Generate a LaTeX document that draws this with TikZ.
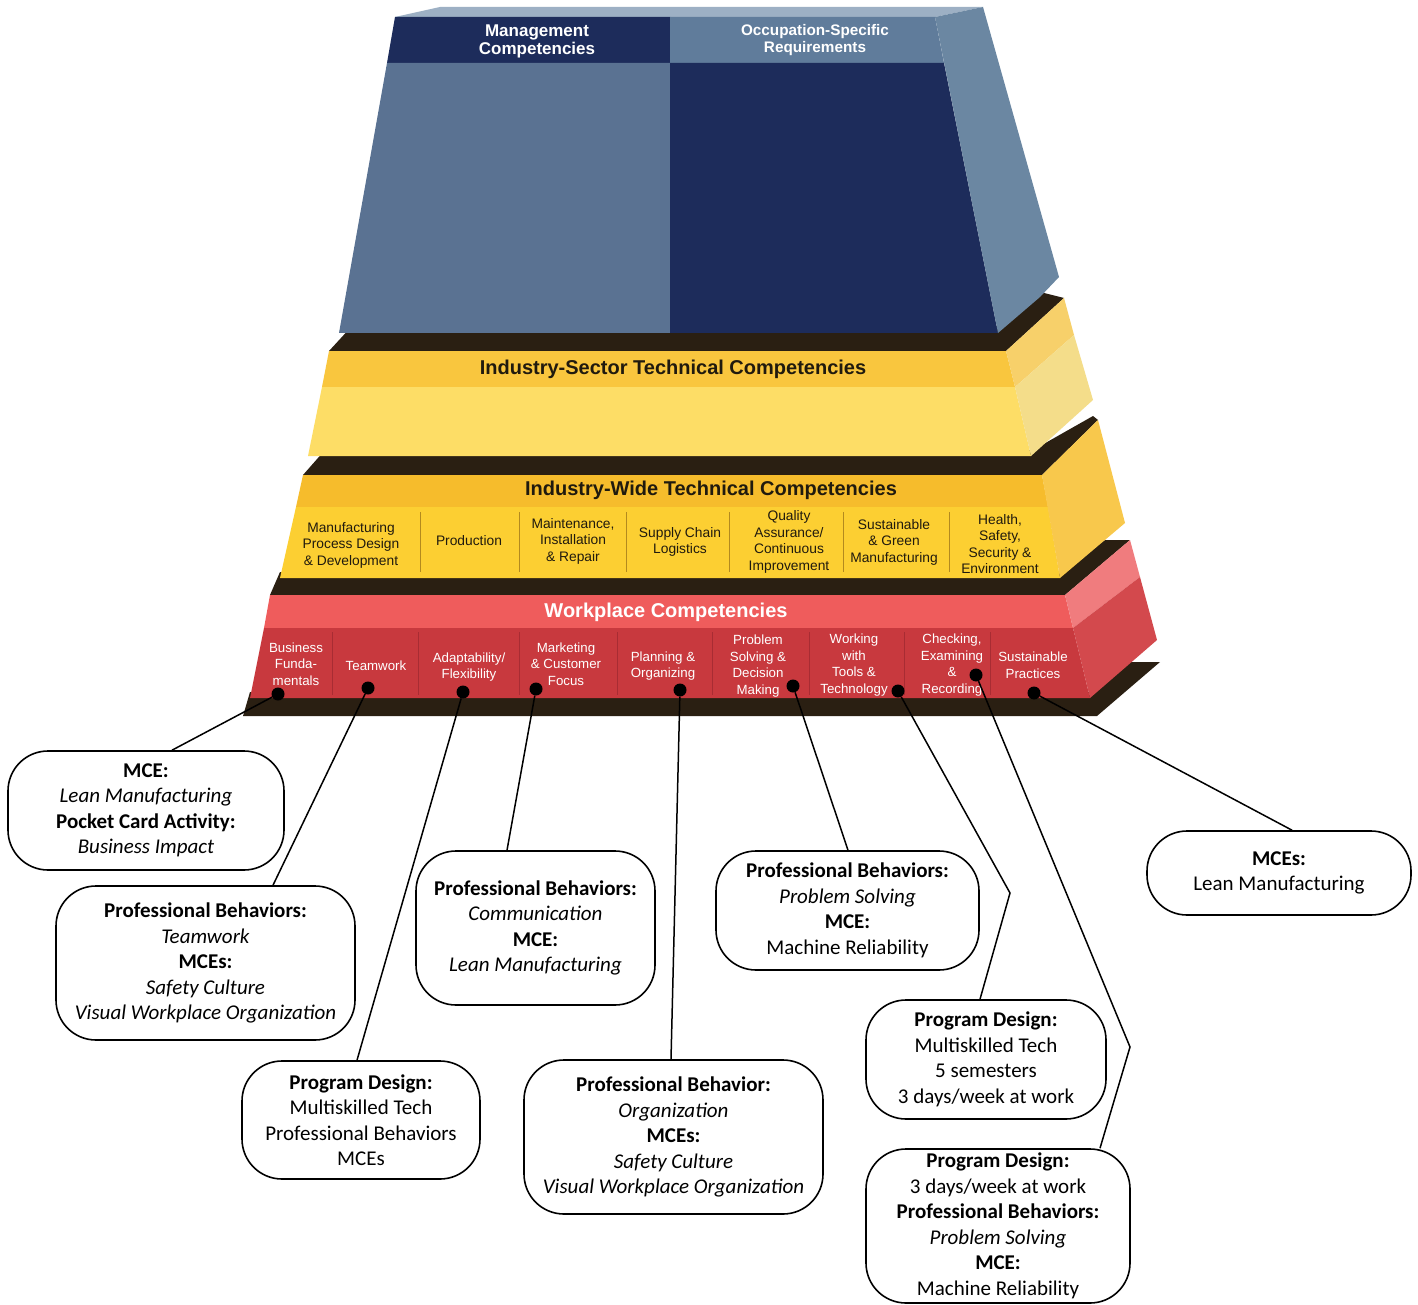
\documentclass[tikz,border=0pt]{standalone}
\usepackage{fontspec}
\setmainfont{Carlito}
\newfontfamily\pyrfont{Liberation Sans}
\usetikzlibrary{calc}

\definecolor{topblue}{HTML}{9DB0C4}
\definecolor{steelblue}{HTML}{5A7292}
\definecolor{headsteel}{HTML}{607C9B}
\definecolor{navyblue}{HTML}{1D2C5B}
\definecolor{sideblue}{HTML}{6B87A2}
\definecolor{darkband}{HTML}{2A1F12}
\definecolor{sectortop}{HTML}{F9C63E}
\definecolor{sectorlow}{HTML}{FDDD66}
\definecolor{sectorside}{HTML}{F7D06A}
\definecolor{sectorsidelow}{HTML}{F4DD8A}
\definecolor{widetop}{HTML}{F6BC2C}
\definecolor{widelow}{HTML}{FCCF32}
\definecolor{wideside}{HTML}{F8C84C}
\definecolor{worktop}{HTML}{EF5C5C}
\definecolor{worklow}{HTML}{C8393E}
\definecolor{workside}{HTML}{F07C7E}
\definecolor{worksidelow}{HTML}{D3494D}
\definecolor{titletext}{HTML}{201A0E}
\definecolor{ydivcol}{HTML}{B38A1E}
\definecolor{rdivcol}{HTML}{A82C33}

\begin{document}
\begin{tikzpicture}[
x=1pt,
y=-1pt,
infobox/.style={draw,line width=1.6pt,rounded corners=40pt,align=center,inner sep=0pt,font=\fontsize{21}{25.5}\selectfont,execute at begin node={\rule{0pt}{28pt}}},
hd/.style={font=\pyrfont\bfseries\fontsize{17}{18}\selectfont,text=white,align=center,inner sep=0pt},
ttl/.style={font=\pyrfont\bfseries\fontsize{20}{22}\selectfont,text=titletext,inner sep=0pt},
ylab/.style={font=\pyrfont\fontsize{13.8}{16.5}\selectfont,text=titletext,align=center,inner sep=0pt},
rlab/.style={font=\pyrfont\fontsize{13.3}{16.5}\selectfont,text=white,align=center,inner sep=0pt},
dotmark/.style={circle,fill=black,inner sep=0pt,minimum size=13pt},
conn/.style={line width=1.5pt},
ydiv/.style={draw=ydivcol,line width=0.9pt},
rdiv/.style={draw=rdivcol,line width=0.9pt}
]
\useasboundingbox (0,0) rectangle (1418,1305);
\fill[white] (0,0) rectangle (1418,1305);

\fill[darkband] (352,326) -- (998,326) -- (1040,292) -- (1064,298) -- (1006,351) -- (329,351) -- cycle;
\fill[darkband] (325,450) -- (1033,450) -- (1093,416) -- (1098,420) -- (1042,475) -- (303,475) -- cycle;
\fill[darkband] (280,572) -- (1060,572) -- (1105,540) -- (1130,540) -- (1065,595) -- (270,595) -- cycle;
\fill[darkband] (250,692) -- (1090,692) -- (1128,662) -- (1160,662) -- (1097,716) -- (243,716) -- cycle;

\fill[topblue] (395,17) -- (440,7) -- (983,7) -- (935,17) -- cycle;
\fill[navyblue] (395,17) -- (670,17) -- (670,63) -- (387,63) -- cycle;
\fill[headsteel] (670,17) -- (935,17) -- (944,63) -- (670,63) -- cycle;
\fill[steelblue] (387,63) -- (670,63) -- (670,333) -- (339,333) -- cycle;
\fill[navyblue] (670,63) -- (944,63) -- (998,333) -- (670,333) -- cycle;
\fill[sideblue] (935,17) -- (983,7) -- (1059,277) -- (1040,297) -- (998,333) -- cycle;

\fill[sectortop] (329,351) -- (1006,351) -- (1015,387) -- (322,387) -- cycle;
\fill[sectorlow] (322,387) -- (1015,387) -- (1031,456) -- (308,456) -- cycle;
\fill[sectorside] (1006,351) -- (1064,298) -- (1074,335) -- (1015,387) -- cycle;
\fill[sectorsidelow] (1015,387) -- (1074,335) -- (1093,400) -- (1031,456) -- cycle;

\fill[widetop] (303,475) -- (1042,475) -- (1048,507) -- (296,507) -- cycle;
\fill[widelow] (296,507) -- (1048,507) -- (1060,578) -- (280,578) -- cycle;
\fill[wideside] (1042,475) -- (1098,420) -- (1125,523) -- (1060,578) -- cycle;

\fill[worktop] (270,595) -- (1065,595) -- (1073,628) -- (264,628) -- cycle;
\fill[worklow] (264,628) -- (1073,628) -- (1090,698) -- (250,698) -- cycle;
\fill[workside] (1065,595) -- (1130,540) -- (1140,577) -- (1073,628) -- cycle;
\fill[worksidelow] (1073,628) -- (1140,577) -- (1157,640) -- (1090,698) -- cycle;

\foreach \x in {420,519,626,729,843,949} \draw[ydiv] (\x,512) -- (\x,572);
\foreach \x in {332,418,519,617,712,809,904,990} \draw[rdiv] (\x,632) -- (\x,695);

\node[hd] (mgmt) at (537,41) {Management\\Competencies};
\node[hd,font=\pyrfont\bfseries\fontsize{15.3}{17}\selectfont] (occ) at (815,40) {Occupation-Specific\\Requirements};
\node[ttl] (sector) at (673,369) {Industry-Sector Technical Competencies};
\node[ttl] (wide) at (711,490) {Industry-Wide Technical Competencies};
\node[ttl,text=white] (workplace) at (666,612) {Workplace Competencies};

\node[ylab] (ymfg) at (351,545) {Manufacturing\\Process Design\\\& Development};
\node[ylab] (yprod) at (469,541) {Production};
\node[ylab] (ymaint) at (573,541) {Maintenance,\\Installation\\\& Repair};
\node[ylab] (ysupply) at (680,542) {Supply Chain\\Logistics};
\node[ylab] (yquality) at (789,542) {Quality\\Assurance/\\Continuous\\Improvement};
\node[ylab] (ygreen) at (894,542) {Sustainable\\\& Green\\Manufacturing};
\node[ylab] (yhealth) at (1000,544) {Health,\\Safety,\\Security \&\\Environment};

\node[rlab] (rbiz) at (296,664) {Business\\Funda-\\mentals};
\node[rlab] (rteam) at (376,666) {Teamwork};
\node[rlab] (radapt) at (469,667) {Adaptability/\\Flexibility};
\node[rlab] (rmarket) at (566,664) {Marketing\\\& Customer\\Focus};
\node[rlab] (rplan) at (663,666) {Planning \&\\Organizing};
\node[rlab] (rprob) at (758,666) {Problem\\Solving \&\\Decision\\Making};
\node[rlab] (rtools) at (854,665) {Working\\with\\Tools \&\\Technology};
\node[rlab] (rcheck) at (952,665) {Checking,\\Examining\\\&\\Recording};
\node[rlab] (rsust) at (1033,665) {Sustainable\\Practices};

\node[infobox,minimum width=276pt,minimum height=119pt] (mceBiz) at (146,810.5) {\textbf{MCE:}\\\textit{Lean Manufacturing}\\\textbf{Pocket Card Activity:}\\\textit{Business Impact}};
\node[infobox,minimum width=299pt,minimum height=154pt] (pbTeam) at (205.5,963) {\textbf{Professional Behaviors:}\\\textit{Teamwork}\\\textbf{MCEs:}\\\textit{Safety Culture}\\\textit{Visual Workplace Organization}};
\node[infobox,minimum width=238pt,minimum height=118pt] (pdLeft) at (361,1120) {\textbf{Program Design:}\\Multiskilled Tech\\Professional Behaviors\\MCEs};
\node[infobox,minimum width=239pt,minimum height=154pt] (pbComm) at (535.5,928) {\textbf{Professional Behaviors:}\\\textit{Communication}\\\textbf{MCE:}\\\textit{Lean Manufacturing}};
\node[infobox,minimum width=299pt,minimum height=154pt] (pbOrg) at (673.5,1137) {\textbf{Professional Behavior:}\\\textit{Organization}\\\textbf{MCEs:}\\\textit{Safety Culture}\\\textit{Visual Workplace Organization}};
\node[infobox,minimum width=263pt,minimum height=119pt] (pbProb) at (847.5,910.5) {\textbf{Professional Behaviors:}\\\textit{Problem Solving}\\\textbf{MCE:}\\Machine Reliability};
\node[infobox,minimum width=240pt,minimum height=119pt] (pdFive) at (986,1059.5) {\textbf{Program Design:}\\Multiskilled Tech\\5 semesters\\3 days/week at work};
\node[infobox,minimum width=264pt,minimum height=154pt] (pdThree) at (998,1226) {\textbf{Program Design:}\\3 days/week at work\\\textbf{Professional Behaviors:}\\\textit{Problem Solving}\\\textbf{MCE:}\\Machine Reliability};
\node[infobox,minimum width=264pt,minimum height=84pt] (mceLean) at (1279,873) {\textbf{MCEs:}\\Lean Manufacturing};

\node[dotmark] (dBiz) at (278,694) {};
\node[dotmark] (dTeam) at (368,688) {};
\node[dotmark] (dAdapt) at (463,692) {};
\node[dotmark] (dMarket) at (536,689) {};
\node[dotmark] (dPlan) at (680,690) {};
\node[dotmark] (dProb) at (793,686) {};
\node[dotmark] (dTools) at (898,691) {};
\node[dotmark] (dCheck) at (976,675) {};
\node[dotmark] (dSust) at (1034,693) {};

\coordinate (bendTools) at (1010,893);
\coordinate (bendCheck) at (1130,1047);

\draw[conn] (dBiz) -- ($(mceBiz.north)+(26,0)$);
\draw[conn] (dTeam) -- ($(pbTeam.north)+(67.5,0)$);
\draw[conn] (dAdapt) -- ($(pdLeft.north)+(-4,0)$);
\draw[conn] (dMarket) -- ($(pbComm.north)+(-28.5,0)$);
\draw[conn] (dPlan) -- ($(pbOrg.north)+(-2.5,0)$);
\draw[conn] (dProb) -- ($(pbProb.north)+(0.5,0)$);
\draw[conn] (dTools) -- (bendTools) -- ($(pdFive.north)+(-6,0)$);
\draw[conn] (dCheck) -- (bendCheck) -- ($(pdThree.north)+(102,0)$);
\draw[conn] (dSust) -- ($(mceLean.north)+(13,0)$);
\end{tikzpicture}
\end{document}
